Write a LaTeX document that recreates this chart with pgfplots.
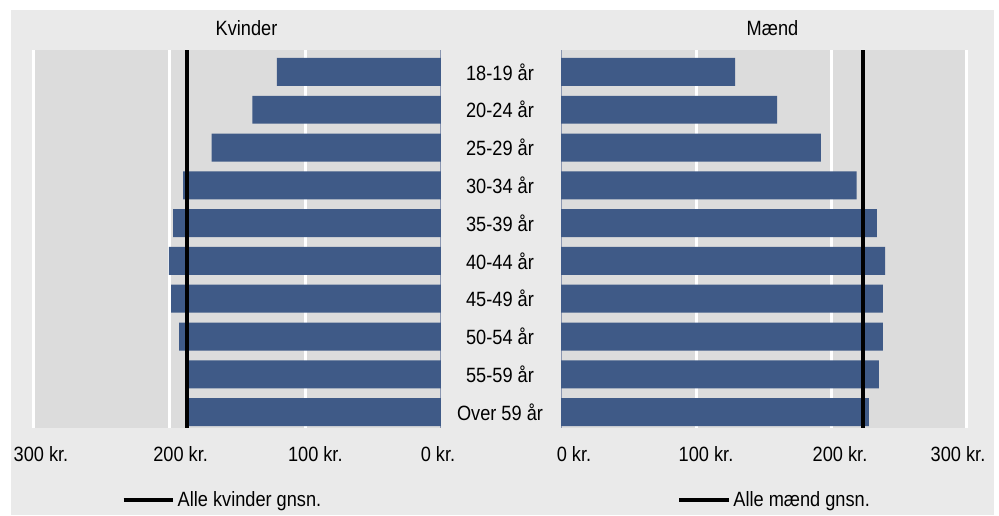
\documentclass[border=0pt]{standalone}
\usepackage{pgfplots}
\pgfplotsset{compat=1.18}
\usepackage{pgfplotstable}
\usepackage{fontspec}
\setmainfont{Liberation Sans}[FakeStretch=0.88]

\definecolor{outerbg}{HTML}{EAEAEA}
\definecolor{plotbg}{HTML}{DCDCDC}
\definecolor{barblue}{HTML}{3F5A87}
\definecolor{zeroline}{HTML}{8A96B0}

% alder: 0 = 18-19 aar ... 9 = over 59 aar
\pgfplotstableread{
idx women men
0 121   129
1 139   160
2 169   192.5
3 190   219
4 197.5 234
5 200.5 240
6 199   238.5
7 193   238.5
8 187.5 235.5
9 186   228
}\lonData

% shift a centred label by half of #1
\newcommand\sh[2]{\hspace*{#1}#2}

\pgfplotsset{
  pyr/.style={
    scale only axis,
    height=283.5pt,
    xmin=0, xmax=300,
    ymin=-0.58, ymax=9.42,
    y dir=reverse,
    axis background/.style={fill=plotbg},
    axis line style={draw=none},
    major tick length=0pt,
    xtick={100,200,300},
    xmajorgrids,
    grid style={white, line width=2.25pt},
    extra x ticks={0},
    extra x tick style={grid style={zeroline, line width=0.75pt}},
    ytick={0,...,9},
    font=\fontsize{15.5}{18}\selectfont,
    xticklabel style={yshift=-10pt},
    title style={yshift=1.5pt},
    legend style={draw=none, fill=none, at={(0.5,-0.19)}, anchor=center,
      font=\fontsize{15.5}{18}\selectfont},
    legend image code/.code={\draw[##1] (0pt,0pt) -- (37pt,0pt);},
  },
}

\begin{document}
\begin{tikzpicture}
\useasboundingbox (0,0) rectangle (749.25pt,386.25pt);
\fill[white] (0,0) rectangle (749.25pt,386.25pt);
\fill[outerbg] (8.25pt,0) rectangle (745.5pt,378.75pt);

% Kvinder
\begin{axis}[pyr,
    at={(25.5pt,65.25pt)}, anchor=south west,
    width=305.25pt,
    x dir=reverse,
    title={Kvinder},
    title style={xshift=6.75pt},
    xticklabels={\sh{15pt}{100 kr.},\sh{16.5pt}{200 kr.},\sh{10.5pt}{300 kr.}},
    extra x tick labels={\sh{-4.5pt}{0 kr.}},
    yticklabels={},
    legend style={xshift=-11pt},
  ]
  \addplot[xbar, bar width=0.74, fill=barblue, draw=none, forget plot]
    table[x=women, y=idx] {\lonData};
  \addplot[black, line width=3pt] coordinates {(187.2,-0.58) (187.2,9.42)};
  \addlegendentry{Alle kvinder gnsn.}
\end{axis}

% Maend
\begin{axis}[pyr,
    at={(420.75pt,65.25pt)}, anchor=south west,
    width=303.75pt,
    title={Mænd},
    title style={xshift=6.75pt},
    xticklabels={\sh{15pt}{100 kr.},\sh{13.5pt}{200 kr.},\sh{-12pt}{300 kr.}},
    extra x tick labels={\sh{19.5pt}{0 kr.}},
    yticklabels={18-19 år,20-24 år,25-29 år,30-34 år,35-39 år,40-44 år,45-49 år,50-54 år,55-59 år,Over 59 år},
    yticklabel style={anchor=center, xshift=-45.75pt},
    legend style={xshift=8.6pt},
  ]
  \addplot[xbar, bar width=0.74, fill=barblue, draw=none, forget plot]
    table[x=men, y=idx] {\lonData};
  \addplot[black, line width=3pt] coordinates {(223.7,-0.58) (223.7,9.42)};
  \addlegendentry{Alle mænd gnsn.}
\end{axis}
\end{tikzpicture}
\end{document}
